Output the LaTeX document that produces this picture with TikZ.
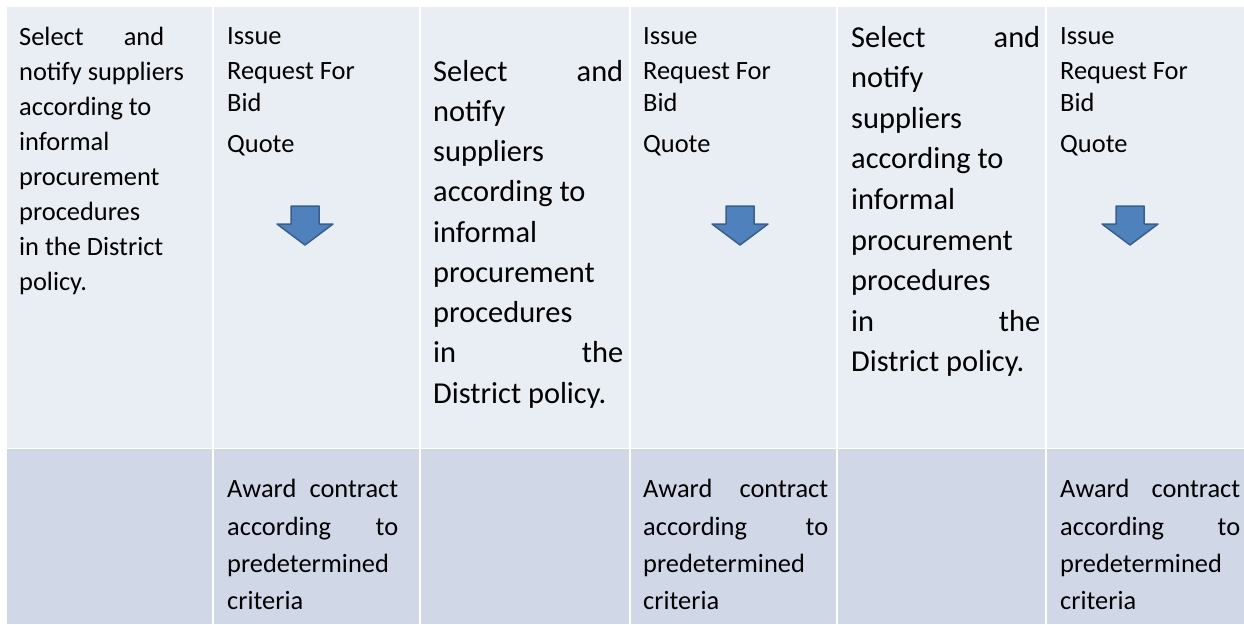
\documentclass[tikz,border=0pt]{standalone}
\usepackage{fontspec}
\setmainfont{Carlito}
\definecolor{toprow}{HTML}{E9EDF4}
\definecolor{botrow}{HTML}{D0D8E8}
\definecolor{arrowfill}{HTML}{4F81BD}
\definecolor{arrowedge}{HTML}{3A5F8B}
\tikzset{
  x=1pt, y=-1pt,
  topcell/.style={fill=toprow, draw=none},
  botcell/.style={fill=botrow, draw=none},
  small/.style={inner sep=0pt, anchor=base west, font=\fontsize{26.4}{32}\selectfont, text=black},
  big/.style={inner sep=0pt, anchor=base west, font=\fontsize{30.4}{36}\selectfont, text=black},
  downarrow/.style={fill=arrowfill, draw=arrowedge, line width=1.5pt, line join=round}
}
\begin{document}
\begin{tikzpicture}
\useasboundingbox[fill=white] (0,0) rectangle (1244,624);
% cells, top row
\fill[topcell] (7,7) rectangle (212,447.5);
\fill[topcell] (213.8,7) rectangle (419,447.5);
\fill[topcell] (420.8,7) rectangle (629,447.5);
\fill[topcell] (630.8,7) rectangle (836.2,447.5);
\fill[topcell] (838,7) rectangle (1045.2,447.5);
\fill[topcell] (1047,7) rectangle (1244,447.5);
% cells, bottom row
\fill[botcell] (6.5,449) rectangle (212,624);
\fill[botcell] (213.8,449) rectangle (419,624);
\fill[botcell] (420.8,449) rectangle (629,624);
\fill[botcell] (630.8,449) rectangle (836.2,624);
\fill[botcell] (838,449) rectangle (1045.2,624);
\fill[botcell] (1047,449) rectangle (1244,624);

% column 1
\foreach \t [count=\i] in {{\hbox to 145pt{Select\hfill and}}, notify suppliers, according to, informal, procurement, procedures, in the District, policy.}
  \node[small] (a\i) at (19,{45+35*(\i-1)}) {\t};

% columns 2, 4, 6 (top)
\foreach \cx/\nm in {227/b, 643/d, 1060/f} {
  \node[small] (\nm1) at (\cx,44) {Issue};
  \node[small] (\nm2) at (\cx,79) {Request For};
  \node[small] (\nm3) at (\cx,111) {Bid};
  \node[small] (\nm4) at (\cx,152) {Quote};
}

% column 3
\foreach \t [count=\i] in {{\hbox to 190pt{Select\hfill and}}, notify, suppliers, according to, informal, procurement, procedures, {\hbox to 190pt{in\hfill the}}, District policy.}
  \node[big] (c\i) at (433,{81+40.25*(\i-1)}) {\t};

% column 5
\foreach \t [count=\i] in {{\hbox to 189pt{Select\hfill and}}, notify, suppliers, according to, informal, procurement, procedures, {\hbox to 189pt{in\hfill the}}, District policy.}
  \node[big] (e\i) at (851,{47+40.6*(\i-1)}) {\t};

% bottom row texts
\foreach \cx/\w/\nm in {227/171/g, 643/185/h, 1060/180/k} {
  \node[small] (\nm1) at (\cx,497) {\hbox to \w pt{Award\hfill contract}};
  \node[small] (\nm2) at (\cx,535) {\hbox to \w pt{according\hfill to}};
  \node[small] (\nm3) at (\cx,572) {predetermined};
  \node[small] (\nm4) at (\cx,609) {criteria};
}

% block arrows
\foreach \c in {305, 740, 1130}
  \draw[downarrow] (\c-14,206) -- (\c+14,206) -- (\c+14,224) -- (\c+28,224)
     -- (\c,245) -- (\c-28,224) -- (\c-14,224) -- cycle;
\end{tikzpicture}
\end{document}
